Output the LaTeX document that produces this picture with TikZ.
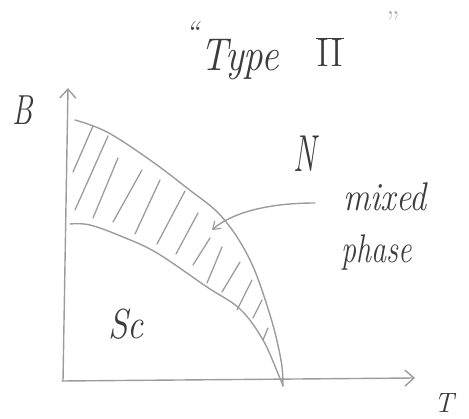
\documentclass[tikz,border=0pt]{standalone}
\usepackage{fontspec}
\setmainfont{Latin Modern Roman}
\usetikzlibrary{arrows.meta}
\definecolor{pen}{HTML}{9C9C9C}
\definecolor{ink}{HTML}{3C3C3C}
\tikzset{
  penline/.style={draw=pen, line width=1.4pt, line cap=round, line join=round},
  hatchline/.style={draw=pen, line width=1.3pt, line cap=round},
  barb/.style={-{Straight Barb[length=9pt,width=16pt,line width=1.4pt]}},
  smallbarb/.style={-{Straight Barb[length=7pt,width=10pt,line width=1.2pt]}},
  hand/.style={text=ink, inner sep=0pt, font=\itshape},
}
\begin{document}
\begin{tikzpicture}[x=1pt,y=-1pt]
\useasboundingbox (0,0) rectangle (469,419);
% axes
\coordinate (orig) at (63,381);
\coordinate (ytip) at (68,88);
\coordinate (xstart) at (62,381);
\coordinate (xtip) at (415,378);
\draw[penline,barb] (orig) -- (ytip);
\draw[penline,barb] (xstart) -- (xtip);
% upper critical curve
\draw[penline] plot[smooth,tension=0.6] coordinates {(75,120) (107,132) (150,160) (187,188) (222,217) (250,260) (270,315) (281,360) (283,386)};
% lower critical curve
\draw[penline] plot[smooth,tension=0.6] coordinates {(70,224) (90,225) (123,237) (157,253) (207,287) (240,309) (263,340) (279,376) (283,386)};
% hatching
\foreach \a/\b/\c/\d in {73/172/93/126, 75/210/108/136, 93/218/118/158, 113/222/142/170,
  135/234/160/180, 157/244/185/191, 176/254/198/213, 193/265/210/238, 207/283/222/247,
  222/292/240/262, 237/310/252/280, 253/318/262/300, 263/340/268/328}
  \draw[hatchline] (\a,\b) -- (\c,\d);
% labels
\node[hand] (B) at (23,110) {\fontsize{42}{48}\selectfont\scalebox{0.7}[1]{B}};
\node[hand] (oq) at (192,32) {\fontsize{30}{36}\selectfont ``};
\node[hand] (type) at (240,60) {\fontsize{46}{52}\selectfont\scalebox{0.85}[1]{Type}};
\node[text=ink, inner sep=0pt] (two) at (330,52) {$\overline{\hbox{\fontsize{40}{46}\selectfont II}}$};
\node[text=pen, inner sep=0pt] (cq) at (393,22) {\fontsize{30}{36}\selectfont ''};
\node[hand] (N) at (305,154) {\fontsize{52}{58}\selectfont\scalebox{0.6}[1]{N}};
\node[hand] (mixed) at (385,197) {\fontsize{40}{46}\selectfont\scalebox{0.85}[1]{mixed}};
\node[hand] (phase) at (377,253) {\fontsize{40}{46}\selectfont\scalebox{0.75}[1]{phase}};
\node[hand] (Sc) at (126,324) {\fontsize{42}{48}\selectfont\scalebox{0.85}[1]{Sc}};
\node[hand, anchor=south] (T) at (444,413) {\fontsize{28}{34}\selectfont T};
% pointer
\coordinate (pstart) at (315,203);
\coordinate (ptip) at (212,230);
\draw[penline,smallbarb] (pstart) .. controls (265,203) and (230,214) .. (ptip);
\end{tikzpicture}
\end{document}
